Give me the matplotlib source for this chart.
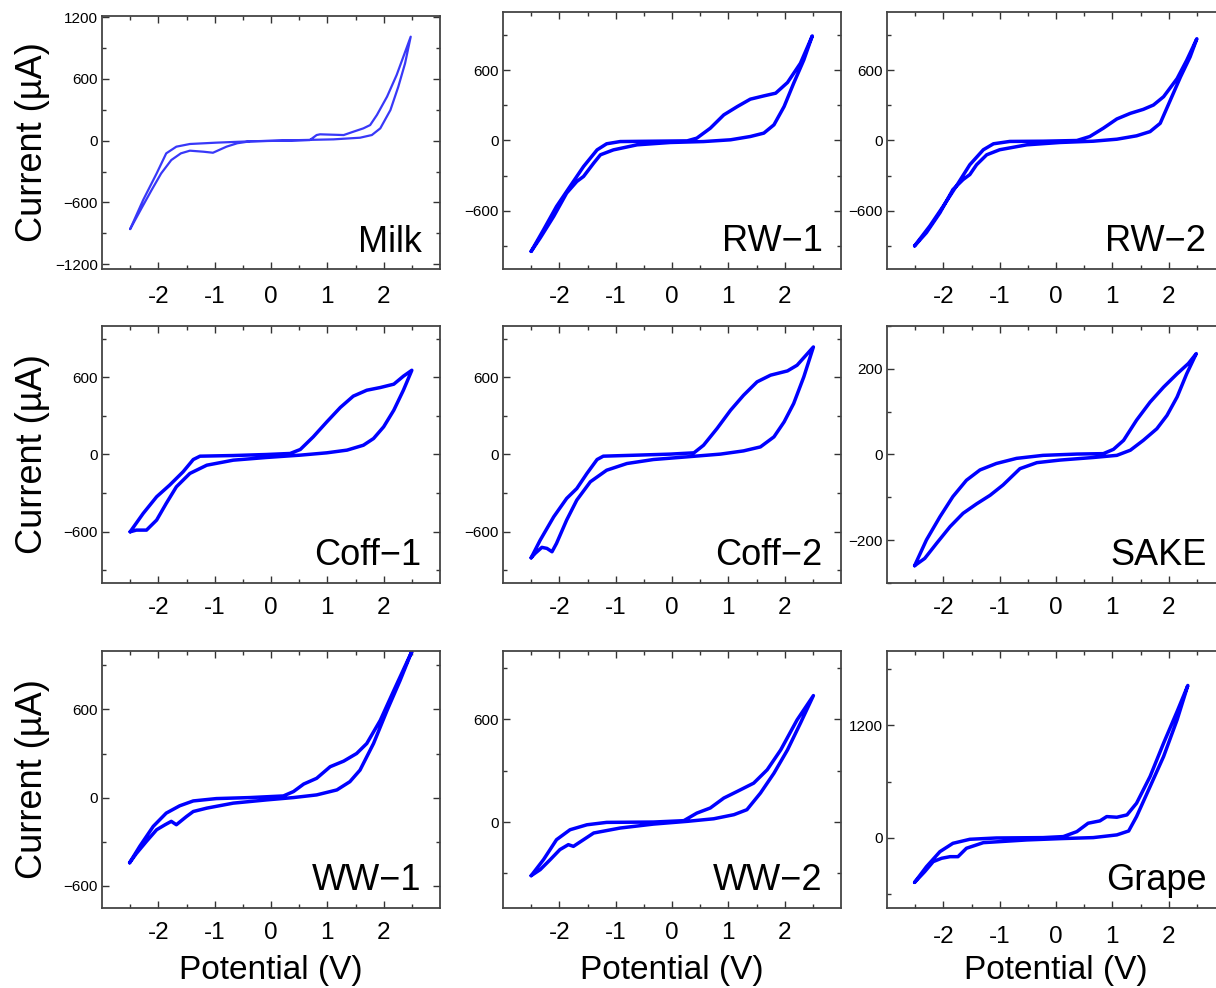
import numpy as np
import matplotlib
matplotlib.use('Agg')
import matplotlib.pyplot as plt
from matplotlib.ticker import MultipleLocator, FixedLocator, FuncFormatter

plt.rcParams['font.family'] = ['Liberation Sans', 'DejaVu Sans']

# ---- data (potential in V, current in uA), one closed CV loop each
milk_v = [-2.50, -2.27, -2.03, -1.86, -1.68, -1.44, -0.97, -0.37, 0.20, 0.69, 0.81, 0.87, 1.29, 1.46,
          1.64, 1.76, 1.88, 2.06, 2.23, 2.48,
          2.38, 2.26, 2.12, 1.94, 1.79, 1.58, 1.11, 0.52, -0.37, -0.60, -0.79, -1.03, -1.20, -1.44,
          -1.60, -1.77, -1.95, -2.12, -2.30, -2.50]
milk_i = [-859, -577, -318, -123, -58, -32, -19, -6, 0, 6, 55, 62, 55, 87,
          120, 152, 250, 428, 638, 1011,
          752, 525, 298, 120, 55, 29, 13, 6, -6, -25, -58, -117, -107, -97,
          -123, -188, -318, -480, -658, -859]

rw1_v = [-2.50, -2.28, -2.05, -1.81, -1.57, -1.33, -1.16, -0.92, -0.33, 0.27, 0.44, 0.68, 0.92, 1.16,
         1.39, 1.63, 1.84, 2.05, 2.28, 2.49,
         2.34, 2.16, 1.99, 1.81, 1.63, 1.39, 1.04, 0.56, -0.03, -0.62, -1.04, -1.27, -1.39, -1.57,
         -1.69, -1.87, -2.10, -2.34, -2.50]
rw1_i = [-947, -762, -563, -392, -222, -80, -28, -9, -6, -3, 20, 105, 219, 290,
         353, 381, 404, 495, 660, 893,
         688, 489, 290, 134, 63, 34, 6, -9, -17, -37, -80, -122, -193, -307,
         -350, -449, -648, -833, -947]

rw2_v = [-2.51, -2.24, -2.00, -1.77, -1.53, -1.29, -1.11, -0.82, -0.23, 0.37, 0.60, 0.84, 1.08, 1.32,
         1.55, 1.73, 1.91, 2.15, 2.32, 2.50,
         2.38, 2.21, 2.03, 1.85, 1.67, 1.43, 1.08, 0.66, 0.07, -0.52, -1.00, -1.23, -1.41, -1.53,
         -1.65, -1.83, -2.06, -2.30, -2.51]
rw2_i = [-900, -730, -560, -390, -207, -79, -28, -8, -6, 0, 34, 105, 184, 232,
         266, 303, 374, 529, 685, 869,
         713, 543, 345, 147, 76, 40, 11, -6, -17, -37, -79, -122, -207, -291,
         -334, -419, -617, -787, -900]

coff1_v = [-2.50, -2.27, -2.03, -1.80, -1.56, -1.38, -1.26, -0.67, -0.08, 0.34, 0.52, 0.75, 0.99, 1.23,
           1.46, 1.70, 1.94, 2.18, 2.35, 2.50,
           2.35, 2.18, 2.00, 1.82, 1.64, 1.35, 0.99, 0.52, -0.08, -0.67, -1.14, -1.44, -1.68, -1.86,
           -2.03, -2.21, -2.39, -2.50]
coff1_i = [-600, -458, -328, -238, -134, -39, -13, -8, 0, 8, 39, 137, 253, 365,
           453, 499, 520, 546, 608, 654,
           499, 344, 215, 124, 72, 34, 13, -5, -23, -44, -83, -147, -251, -380,
           -509, -587, -587, -600]

coff2_v = [-2.50, -2.34, -2.10, -1.87, -1.69, -1.51, -1.33, -1.22, -0.62, -0.03, 0.39, 0.56, 0.80, 1.04,
           1.27, 1.51, 1.75, 2.05, 2.22, 2.51,
           2.34, 2.16, 1.99, 1.81, 1.57, 1.27, 0.86, 0.27, -0.33, -0.80, -1.16, -1.45, -1.69, -1.87,
           -2.05, -2.13, -2.22, -2.31, -2.43, -2.50]
coff2_i = [-802, -665, -484, -341, -264, -147, -39, -13, -5, 3, 13, 72, 202, 344,
           460, 564, 616, 649, 693, 835,
           603, 396, 253, 137, 59, 28, 3, -18, -39, -70, -122, -212, -354, -509,
           -690, -755, -729, -721, -768, -802]

sake_v = [-2.51, -2.30, -2.06, -1.83, -1.59, -1.35, -1.06, -0.70, -0.23, 0.37, 0.84, 1.02, 1.20, 1.43,
          1.67, 1.91, 2.15, 2.35, 2.49,
          2.32, 2.15, 1.97, 1.79, 1.55, 1.32, 1.08, 0.66, 0.07, -0.34, -0.64, -0.94, -1.17, -1.41,
          -1.65, -1.88, -2.12, -2.33, -2.51]
sake_i = [-259, -199, -145, -98, -60, -36, -21, -9, -2, 1, 2, 12, 33, 80,
          122, 157, 188, 212, 235,
          188, 134, 91, 60, 33, 10, -2, -7, -13, -19, -33, -71, -95, -115,
          -137, -168, -207, -242, -259]

ww1_v = [-2.51, -2.33, -2.09, -1.86, -1.62, -1.38, -0.97, -0.37, 0.22, 0.40, 0.58, 0.81, 1.05, 1.29,
         1.52, 1.70, 1.94, 2.18, 2.50,
         2.29, 2.06, 1.82, 1.58, 1.40, 1.17, 0.81, 0.40, -0.08, -0.67, -1.14, -1.38, -1.50, -1.68,
         -1.77, -1.88, -2.03, -2.21, -2.39, -2.51]
ww1_i = [-444, -332, -196, -106, -56, -23, -7, 0, 11, 41, 92, 131, 210, 248,
         300, 368, 526, 729, 995,
         796, 593, 368, 187, 108, 52, 18, 0, -16, -38, -72, -95, -129, -185,
         -162, -185, -219, -298, -381, -444]

ww2_v = [-2.50, -2.28, -2.05, -1.81, -1.51, -1.16, -0.33, 0.21, 0.44, 0.68, 0.92, 1.16, 1.45, 1.69,
         1.93, 2.22, 2.51,
         2.28, 2.05, 1.81, 1.57, 1.33, 1.10, 0.74, 0.27, -0.33, -0.92, -1.39, -1.57, -1.75, -1.84,
         -1.99, -2.16, -2.34, -2.50]
ww2_i = [-313, -219, -103, -45, -16, -2, 0, 8, 52, 82, 140, 179, 227, 305,
         421, 596, 738,
         577, 421, 285, 169, 72, 43, 19, 4, -12, -35, -64, -103, -142, -132,
         -161, -219, -278, -313]

grape_v = [-2.51, -2.30, -2.06, -1.83, -1.53, -1.06, -0.23, 0.13, 0.37, 0.57, 0.78, 0.90, 1.08, 1.26,
           1.43, 1.67, 1.91, 2.15, 2.34,
           2.15, 1.91, 1.67, 1.43, 1.29, 1.08, 0.66, 0.07, -0.52, -1.29, -1.59, -1.74, -1.88, -2.03,
           -2.18, -2.33, -2.51]
grape_i = [-479, -311, -150, -61, -18, -4, 0, 11, 64, 154, 179, 225, 218, 243,
           368, 654, 1011, 1350, 1628,
           1261, 868, 546, 225, 71, 29, 0, -11, -25, -54, -114, -204, -204, -221,
           -257, -364, -479]

labels = ['Milk', 'RW\u22121', 'RW\u22122', 'Coff\u22121', 'Coff\u22122', 'SAKE',
          'WW\u22121', 'WW\u22122', 'Grape']
volts = [milk_v, rw1_v, rw2_v, coff1_v, coff2_v, sake_v, ww1_v, ww2_v, grape_v]
currents = [milk_i, rw1_i, rw2_i, coff1_i, coff2_i, sake_i, ww1_i, ww2_i, grape_i]

x_major = [-2, -1, 0, 1, 2]
x_minor = [-2.5, -1.5, -0.5, 0.5, 1.5, 2.5]

# axis ranges / tick steps per panel
ylims = [(-1250, 1215), (-1100, 1100), (-1100, 1100),
         (-1000, 1000), (-1000, 1000), (-300, 300),
         (-750, 1000), (-500, 1000), (-750, 2000)]
ymajor = [600, 600, 600, 600, 600, 200, 600, 600, 1200]

# ---- layout (pixel boxes: left, top, right, bottom)
W, H = 1216, 988
lefts = [102, 503, 887]
rights = [440, 841, 1225]
tops = [[15.7, 11.7, 11.7], [325.7, 325.7, 325.7], [650.7, 650.7, 650.7]]
bottoms = [269.3, 583.3, 907.7]
xpads = [[12, 12, 12], [10, 10, 10], [10, 10, 13]]

fig = plt.figure(figsize=(W / 100, H / 100), dpi=100)

for k in range(9):
    r, c = divmod(k, 3)
    l, rt, t, b = lefts[c], rights[c], tops[r][c], bottoms[r]
    ax = fig.add_axes([l / W, 1 - b / H, (rt - l) / W, (b - t) / H])
    lw = 1.6 if k == 0 else 2.5
    col = '#3838f8' if k == 0 else '#0000ff'
    ax.plot(volts[k], currents[k], color=col, lw=lw, solid_joinstyle='round', solid_capstyle='round')

    ax.set_xlim(-3, 3)
    ax.set_ylim(*ylims[k])
    ax.xaxis.set_major_locator(FixedLocator(x_major))
    ax.xaxis.set_minor_locator(FixedLocator(x_minor))
    ax.xaxis.set_major_formatter(FuncFormatter(lambda v, p: f'{v:g}'))
    ax.yaxis.set_major_locator(MultipleLocator(ymajor[k]))
    ax.yaxis.set_minor_locator(MultipleLocator(ymajor[k] / 2))
    ax.tick_params(which='both', direction='in', top=True, right=True, colors='#333333', width=1)
    ax.tick_params(which='major', length=5)
    ax.tick_params(which='minor', length=3)
    ax.tick_params(axis='x', which='major', labelsize=17.5, pad=xpads[r][c], labelcolor='black')
    ax.tick_params(axis='y', which='major', labelsize=11, pad=3, labelcolor='black')
    for s in ax.spines.values():
        s.set_color('#444444')
        s.set_linewidth(1.3)

    ax.text(0.945, 0.07, labels[k], transform=ax.transAxes, ha='right', va='baseline',
            fontsize=26, color='black')

    if c == 0:
        ax.set_ylabel('Current (\u00b5A)', fontsize=26)
        ax.yaxis.set_label_coords(-0.155, 0.5)
    if r == 2:
        ax.set_xlabel('Potential (V)', fontsize=24)
        ax.xaxis.label.set_va('center')
        ax.xaxis.set_label_coords(0.5, -0.245)

fig.savefig('out.png', dpi=100)
